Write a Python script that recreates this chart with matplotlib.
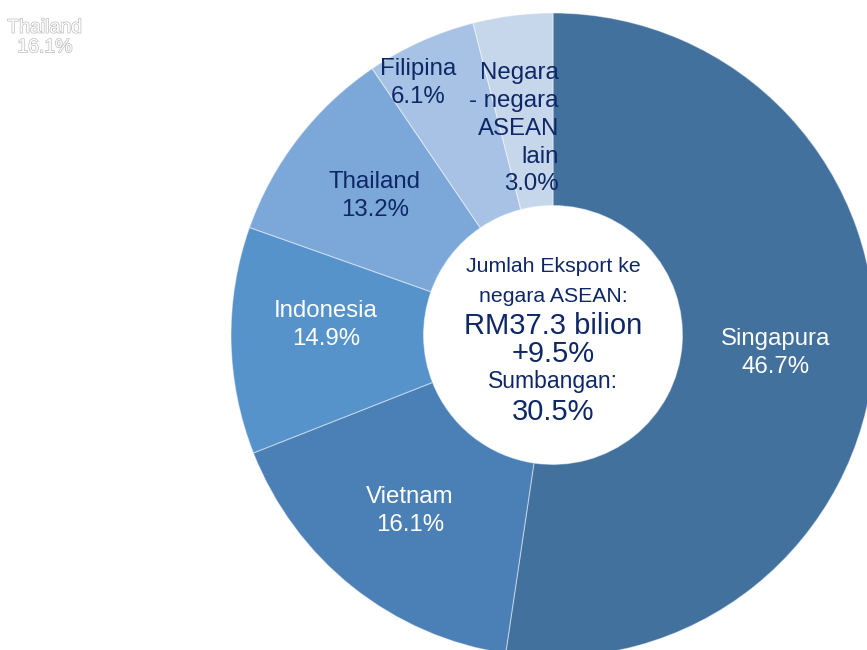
import matplotlib
matplotlib.use("Agg")
import matplotlib.pyplot as plt
import matplotlib.patheffects as pe

plt.rcParams['font.family'] = ['Liberation Sans', 'DejaVu Sans']

# data
countries = ['Singapura', 'Vietnam', 'Indonesia', 'Thailand', 'Filipina',
             'Negara\n- negara\nASEAN\nlain']
label_pct = [46.7, 16.1, 14.9, 13.2, 6.1, 3.0]
# wedge sizes as drawn in the picture (they do not follow the printed shares)
wedge_sizes = [52.4, 16.7, 11.4, 10.1, 5.5, 4.0]
center_lines = ['Jumlah Eksport ke', 'negara ASEAN:', 'RM37.3 bilion',
                '+9.5%', 'Sumbangan:', '30.5%']

# style / layout
colors = ['#41719C', '#4B80B6', '#5693CB', '#7CA8D9', '#A7C2E4', '#C6D6EB']
navy = '#0E2766'
label_colors = ['white', 'white', 'white', navy, navy, navy]
# label anchor positions (data units, pie radius = 1)
label_pos = [(0.6925, -0.056), (-0.444, -0.547), (-0.705, 0.031),
             (-0.553, 0.432), (-0.419, 0.783), (0.0186, 0.641)]
label_ha = ['center'] * 5 + ['right']
center_y = [0.1957, 0.1025, 0.0031, -0.0839, -0.1646, -0.2640]
center_size = [15.3, 15.3, 21, 21, 16.5, 21]

fig = plt.figure(figsize=(8.67, 6.5), dpi=100)
ax = fig.add_axes([0, 0, 1, 1])
R = 322.0
ax.pie(wedge_sizes, startangle=90, counterclock=False, colors=colors,
       radius=1.0, wedgeprops=dict(width=0.598, edgecolor=(1, 1, 1, 0.45), linewidth=0.8))
ax.set_aspect('auto')
ax.set_xlim(-553 / R, (867 - 553) / R)
ax.set_ylim(-(650 - 335) / R, 335 / R)
ax.axis('off')

for name, val, (x, y), c, ha in zip(countries, label_pct, label_pos, label_colors, label_ha):
    ax.text(x, y, f'{name}\n{val:.1f}%', ha=ha, va='center', multialignment=ha,
            color=c, fontsize=17.3, linespacing=1.35)

for line, y, s in zip(center_lines, center_y, center_size):
    ax.text(0, y, line, ha='center', va='baseline', color=navy, fontsize=s)

# stray ghost label in the corner
ghost = fig.text(45 / 867, 1 - 38 / 650, 'Thailand\n16.1%', ha='center', va='center',
                 color='white', fontsize=14, linespacing=1.2)
ghost.set_path_effects([pe.Stroke(linewidth=1.0, foreground='#bdbdbd'), pe.Normal()])

fig.savefig('out.png', dpi=100)
